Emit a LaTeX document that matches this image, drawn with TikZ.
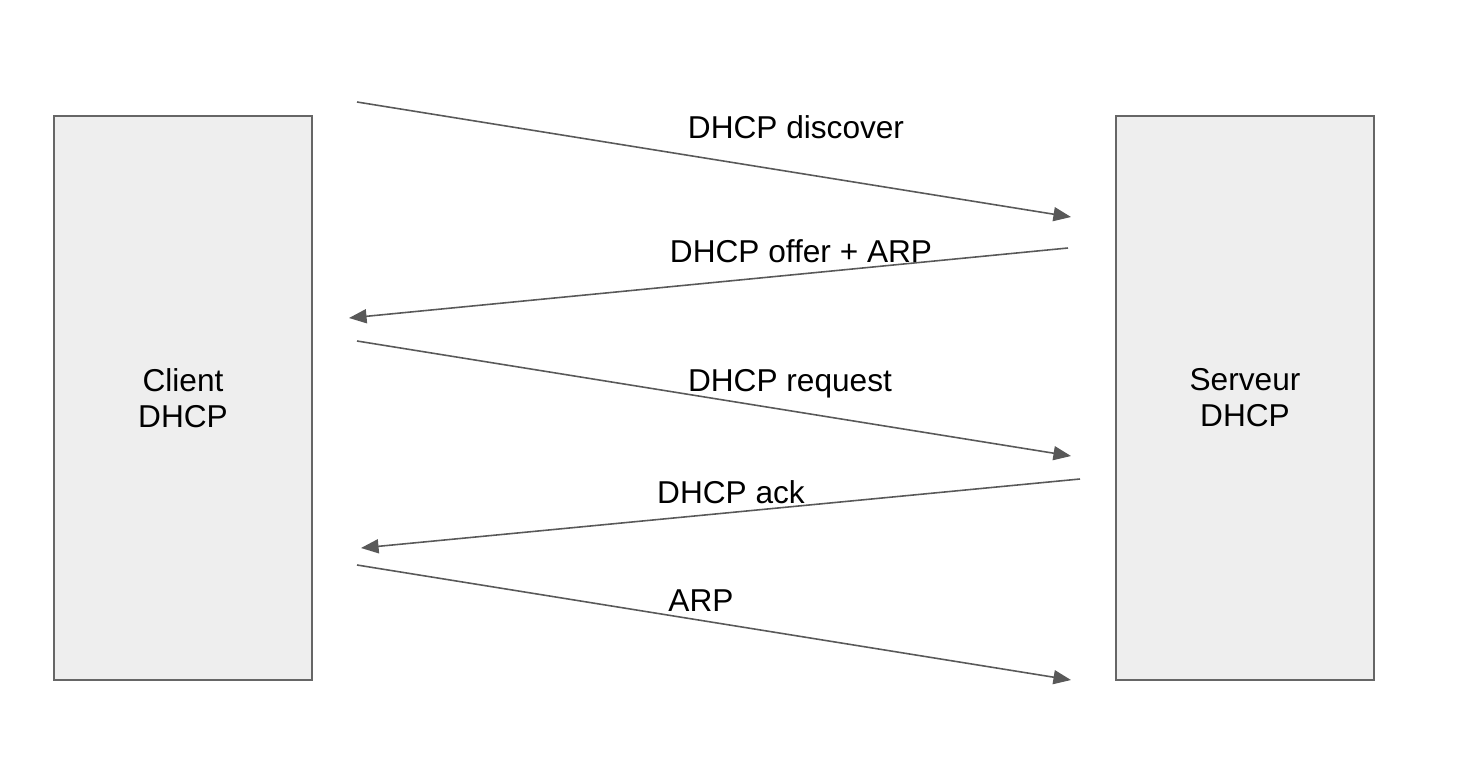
\documentclass[tikz,border=0pt]{standalone}
\usepackage{fontspec}
\setmainfont{Liberation Sans}
\usetikzlibrary{arrows.meta}
\definecolor{boxfill}{HTML}{EEEEEE}
\definecolor{boxline}{HTML}{666666}
\definecolor{arrowc}{HTML}{595959}
\begin{document}
\begin{tikzpicture}[x=0.02cm,y=-0.02cm,
  entity/.style={draw=boxline,fill=boxfill,line width=0.7pt,minimum width=258*0.02cm,minimum height=564*0.02cm,inner sep=0pt,align=center,font=\fontsize{18}{20.5}\selectfont},
  msg/.style={draw=arrowc,line width=0.9pt,-{Triangle[length=10pt,width=8pt]}},
  lbl/.style={font=\fontsize{18}{20}\selectfont,inner sep=0pt,anchor=center}]
\useasboundingbox (0,0) rectangle (1470,760);
\node[entity] (client) at (183,398) {Client\\DHCP};
\node[entity] (server) at (1245,398) {Serveur\\DHCP};
\coordinate (a1s) at (357,102); \coordinate (a1e) at (1071,217);
\coordinate (a2s) at (1068,248); \coordinate (a2e) at (349,318);
\coordinate (a3s) at (357,341); \coordinate (a3e) at (1071,456);
\coordinate (a4s) at (1080,479); \coordinate (a4e) at (361,548);
\coordinate (a5s) at (357,565); \coordinate (a5e) at (1071,680);
\draw[msg] (a1s) -- (a1e);
\draw[msg] (a2s) -- (a2e);
\draw[msg] (a3s) -- (a3e);
\draw[msg] (a4s) -- (a4e);
\draw[msg] (a5s) -- (a5e);
\node[lbl] (l1) at (796,127) {DHCP discover};
\node[lbl] (l2) at (801,251) {DHCP offer + ARP};
\node[lbl] (l3) at (790,384) {DHCP request};
\node[lbl] (l4) at (731,492) {DHCP ack};
\node[lbl] (l5) at (701,601) {ARP};
\end{tikzpicture}
\end{document}
